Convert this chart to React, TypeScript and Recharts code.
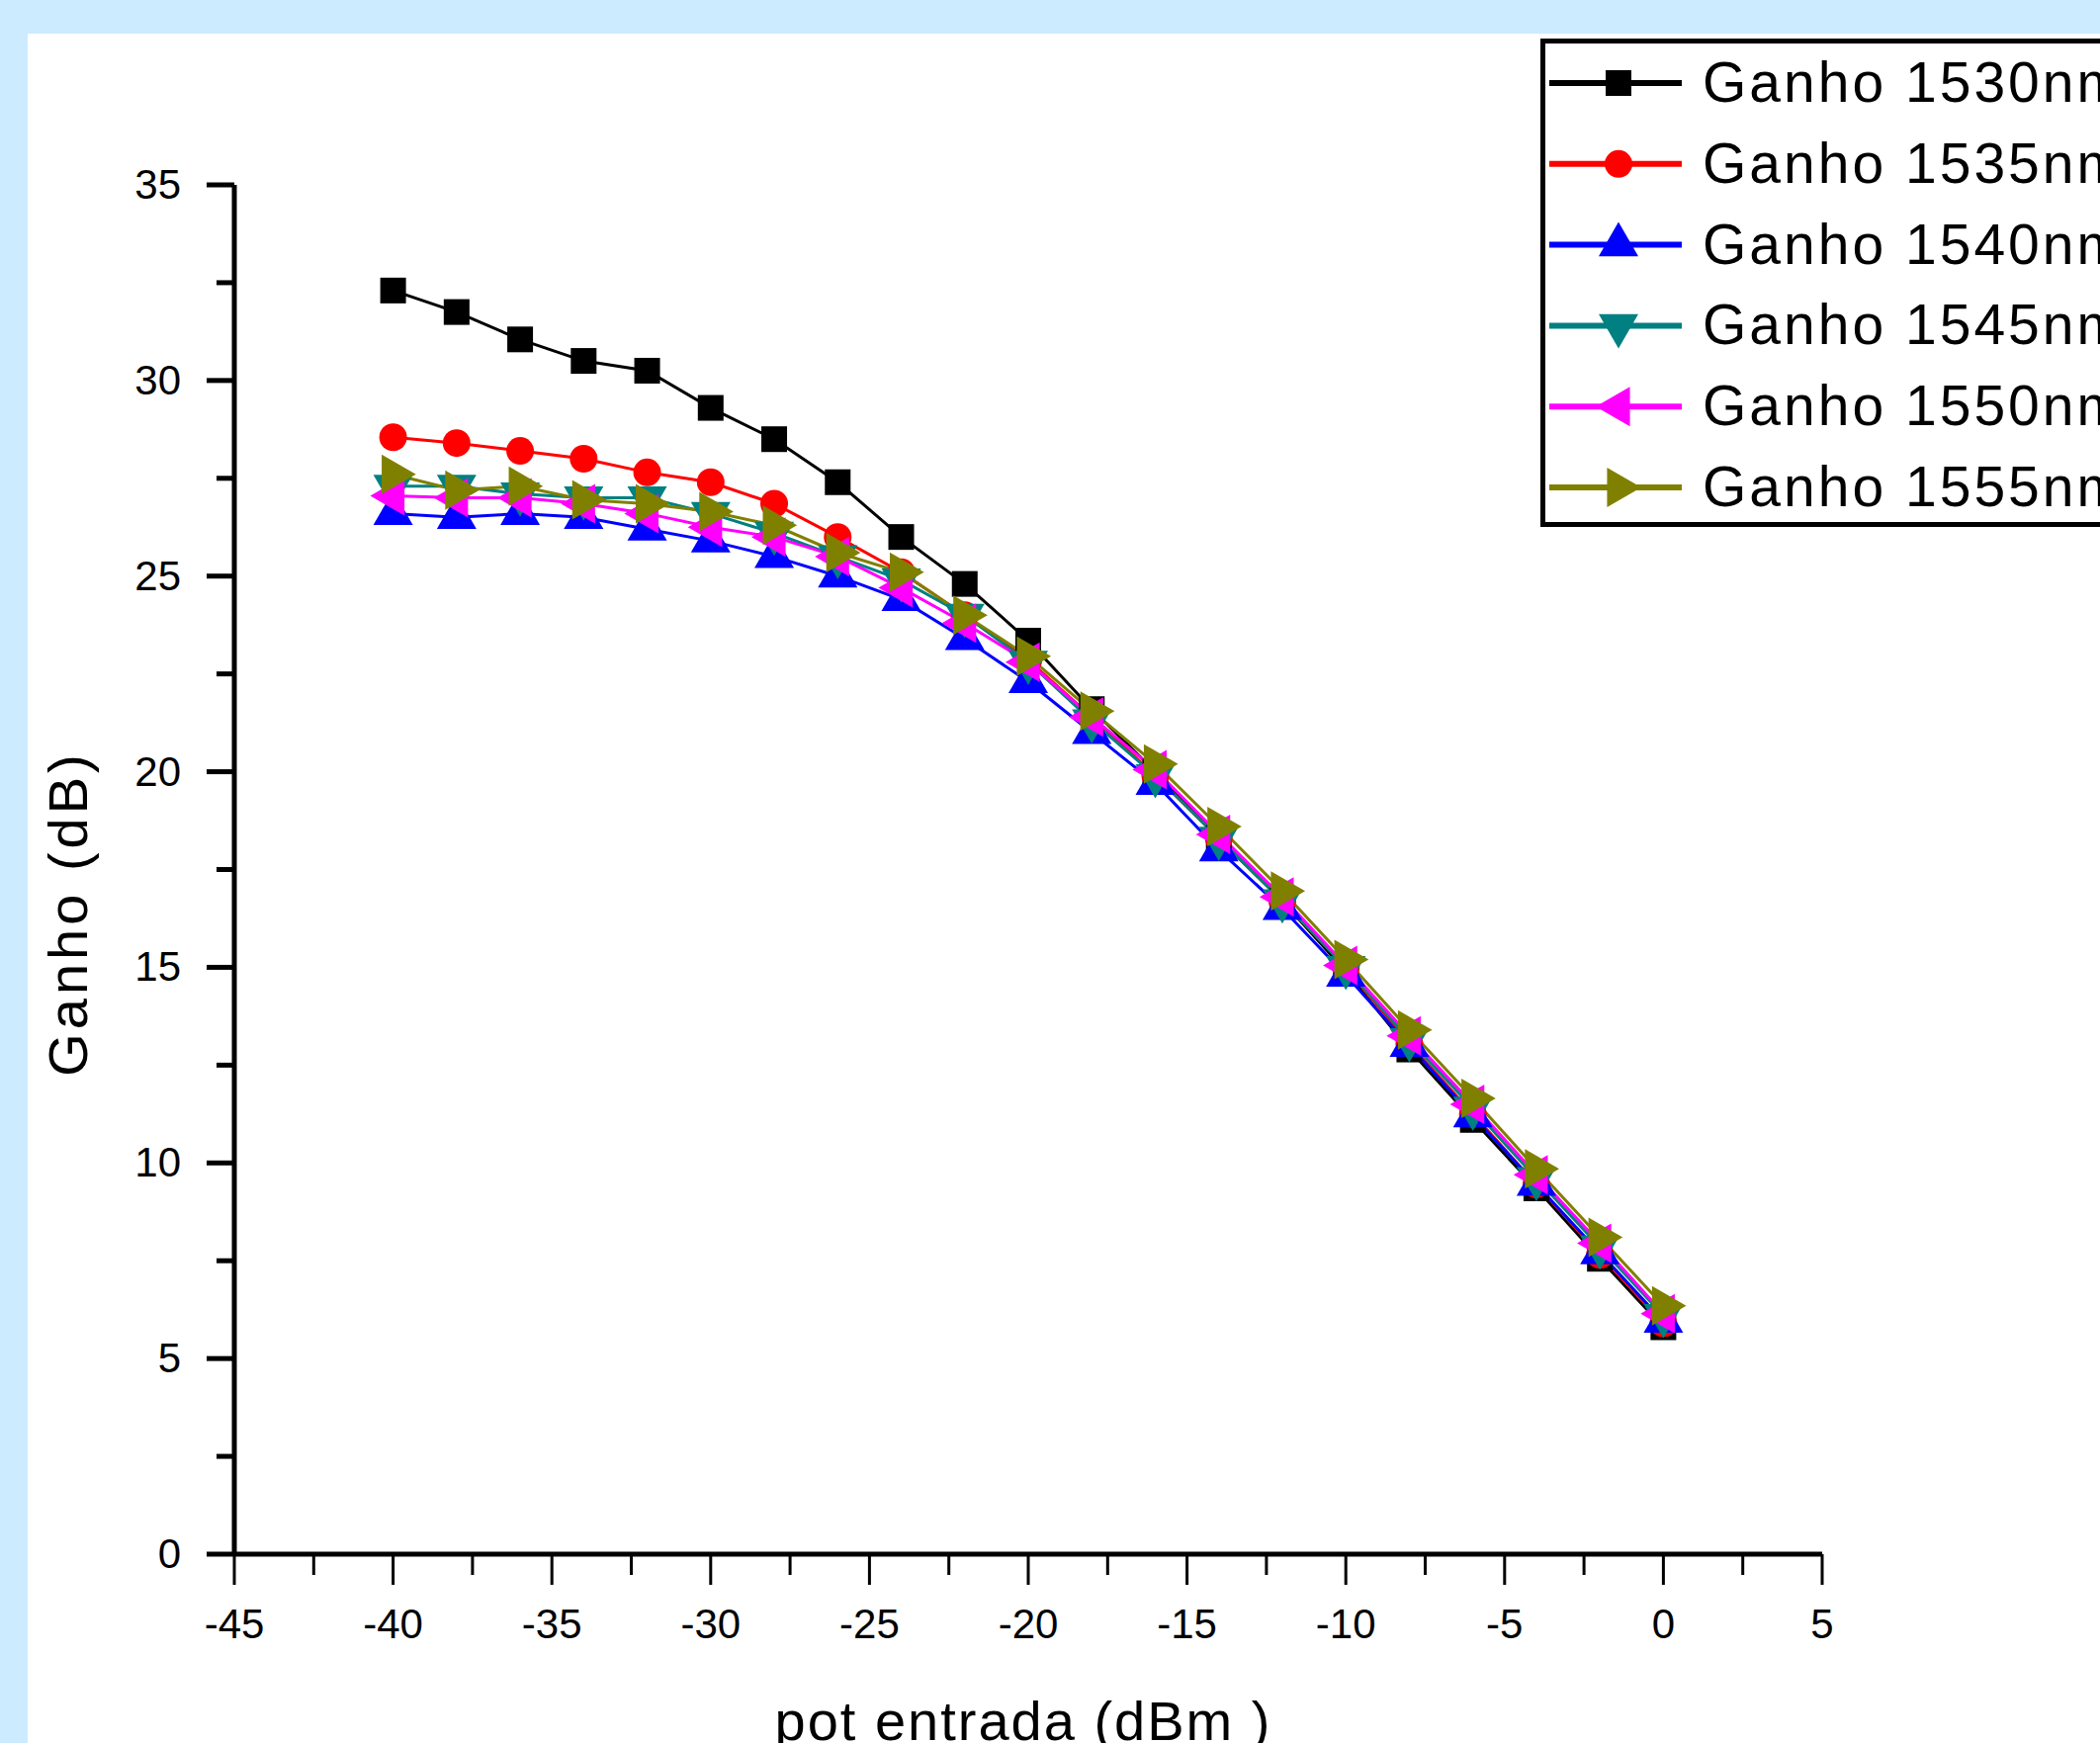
import React from 'react'
import { LineChart, Line, XAxis, YAxis } from 'recharts'

// potência de entrada (dBm)
const POT_ENTRADA = [-40, -38, -36, -34, -32, -30, -28, -26, -24, -22, -20, -18, -16, -14, -12, -10, -8, -6, -4, -2, 0]

// ganho (dB) por comprimento de onda
const GANHO_1530 = [32.3, 31.75, 31.05, 30.5, 30.25, 29.3, 28.5, 27.4, 26.0, 24.8, 23.35, 21.6, 20.0, 18.3, 16.7, 14.9, 12.9, 11.1, 9.35, 7.55, 5.8]
const GANHO_1535 = [28.55, 28.4, 28.2, 28.0, 27.65, 27.4, 26.85, 26.0, 25.1, 24.0, 22.85, 21.4, 19.9, 18.3, 16.7, 15.0, 13.05, 11.25, 9.45, 7.65, 5.9]
const GANHO_1540 = [26.6, 26.5, 26.6, 26.5, 26.2, 25.9, 25.5, 25.0, 24.4, 23.4, 22.3, 21.0, 19.7, 18.0, 16.5, 14.8, 13.0, 11.2, 9.45, 7.7, 5.95]
const GANHO_1545 = [27.3, 27.3, 27.1, 27.0, 27.0, 26.6, 26.1, 25.5, 24.9, 24.0, 22.8, 21.3, 19.9, 18.3, 16.7, 15.0, 13.15, 11.4, 9.6, 7.85, 6.1]
const GANHO_1550 = [27.05, 27.0, 27.0, 26.85, 26.6, 26.25, 26.0, 25.5, 24.7, 23.8, 22.8, 21.4, 20.05, 18.4, 16.8, 15.05, 13.25, 11.5, 9.7, 7.95, 6.15]
const GANHO_1555 = [27.6, 27.2, 27.3, 26.95, 26.85, 26.65, 26.3, 25.6, 25.1, 24.0, 22.95, 21.55, 20.2, 18.6, 16.95, 15.2, 13.4, 11.65, 9.85, 8.1, 6.35]

const X_TICKS = [-45, -42.5, -40, -37.5, -35, -32.5, -30, -27.5, -25, -22.5, -20, -17.5, -15, -12.5, -10, -7.5, -5, -2.5, 0, 2.5, 5]
const Y_TICKS = [0, 2.5, 5, 7.5, 10, 12.5, 15, 17.5, 20, 22.5, 25, 27.5, 30, 32.5, 35]

type Kind = 'square' | 'circle' | 'up' | 'down' | 'left' | 'right'

const SERIES: { key: string; name: string; color: string; kind: Kind; values: number[] }[] = [
  { key: 'g1530', name: 'Ganho 1530nm', color: '#000000', kind: 'square', values: GANHO_1530 },
  { key: 'g1535', name: 'Ganho 1535nm', color: '#FF0000', kind: 'circle', values: GANHO_1535 },
  { key: 'g1540', name: 'Ganho 1540nm', color: '#0000FF', kind: 'up', values: GANHO_1540 },
  { key: 'g1545', name: 'Ganho 1545nm', color: '#008080', kind: 'down', values: GANHO_1545 },
  { key: 'g1550', name: 'Ganho 1550nm', color: '#FF00FF', kind: 'left', values: GANHO_1550 },
  { key: 'g1555', name: 'Ganho 1555nm', color: '#808000', kind: 'right', values: GANHO_1555 },
]

const data = POT_ENTRADA.map((x, i) => {
  const row: Record<string, number> = { x }
  SERIES.forEach((s) => {
    row[s.key] = s.values[i]
  })
  return row
})

const FONT = '"Liberation Sans", Arial, sans-serif'

function Marker({ kind, cx, cy, color, s = 40 }: { kind: Kind; cx: number; cy: number; color: string; s?: number }) {
  const h = s * 0.866
  const a = (h * 2) / 3 // centroid -> tip
  const b = h / 3 // centroid -> base
  const w = s / 2
  if (kind === 'square') return <rect x={cx - 13} y={cy - 13} width={26} height={26} fill={color} />
  if (kind === 'circle') return <circle cx={cx} cy={cy} r={14} fill={color} />
  let pts = ''
  if (kind === 'up') pts = `${cx},${cy - a} ${cx - w},${cy + b} ${cx + w},${cy + b}`
  if (kind === 'down') pts = `${cx},${cy + a} ${cx - w},${cy - b} ${cx + w},${cy - b}`
  if (kind === 'left') pts = `${cx - a},${cy} ${cx + b},${cy - w} ${cx + b},${cy + w}`
  if (kind === 'right') pts = `${cx + a},${cy} ${cx - b},${cy - w} ${cx - b},${cy + w}`
  return <polygon points={pts} fill={color} />
}

const makeDot = (kind: Kind, color: string) => (p: any) =>
  <Marker key={`${kind}-${p.index}`} kind={kind} cx={p.cx} cy={p.cy} color={color} />

function XTick(props: any) {
  const { x, y, payload } = props
  const major = payload.value % 5 === 0
  return (
    <g>
      <line x1={x} y1={y} x2={x} y2={y + (major ? 31 : 21)} stroke="#000" strokeWidth={3} />
      {major && (
        <text x={x} y={y + 85} textAnchor="middle" fontSize={42} fontFamily={FONT} fill="#000">
          {payload.value}
        </text>
      )}
    </g>
  )
}

function YTick(props: any) {
  const { x, y, payload } = props
  const major = payload.value % 5 === 0
  return (
    <g>
      <line x1={x} y1={y} x2={x - (major ? 28 : 18)} y2={y} stroke="#000" strokeWidth={5} />
      {major && (
        <text x={x - 54} y={y + 14} textAnchor="end" fontSize={42} fontFamily={FONT} fill="#000">
          {payload.value}
        </text>
      )}
    </g>
  )
}

const XTitle = () => (
  <text x={1035} y={1760} textAnchor="middle" fontSize={56} letterSpacing={2} fontFamily={FONT} fill="#000">
    pot entrada (dBm )
  </text>
)

const YTitle = () => (
  <text x={88} y={924} transform="rotate(-90 88 924)" textAnchor="middle" fontSize={56} letterSpacing={4} fontFamily={FONT} fill="#000">
    Ganho (dB)
  </text>
)

function LegendBox() {
  return (
    <div
      style={{
        position: 'absolute',
        left: 1558,
        top: 39,
        width: 620,
        height: 484,
        border: '5px solid #000',
        background: '#fff',
      }}
    >
      <svg width={620} height={484}>
        {SERIES.map((s, i) => {
          const cy = 40 + i * 81.8
          return (
            <g key={s.key}>
              <line x1={4} y1={cy} x2={138} y2={cy} stroke={s.color} strokeWidth={6} />
              <Marker kind={s.kind} cx={74} cy={cy} color={s.color} s={40} />
              <text x={159} y={cy + 19} fontSize={57} letterSpacing={3} fontFamily={FONT} fill="#000">
                {s.name}
              </text>
            </g>
          )
        })}
      </svg>
    </div>
  )
}

export default function App() {
  return (
    <div
      style={{
        position: 'absolute',
        left: 0,
        top: 0,
        width: 2124,
        height: 1763,
        background: '#CCEBFF',
        overflow: 'hidden',
        fontFamily: FONT,
      }}
    >
      <div style={{ position: 'absolute', left: 28, top: 34, right: 0, bottom: 0, background: '#fff' }} />
      <div style={{ position: 'absolute', left: 0, top: 0 }}>
        <LineChart width={2124} height={1763} data={data} margin={{ top: 187, right: 281, left: 37, bottom: 91 }}>
          <XAxis
            dataKey="x"
            type="number"
            domain={[-45, 5]}
            ticks={X_TICKS}
            interval={0}
            height={100}
            tickSize={0}
            tickMargin={0}
            tickLine={false}
            tick={<XTick />}
            axisLine={{ stroke: '#000', strokeWidth: 5 }}
            label={<XTitle />}
          />
          <YAxis
            type="number"
            domain={[0, 35]}
            ticks={Y_TICKS}
            interval={0}
            width={200}
            tickSize={0}
            tickMargin={0}
            tickLine={false}
            tick={<YTick />}
            axisLine={{ stroke: '#000', strokeWidth: 5 }}
            label={<YTitle />}
          />
          {SERIES.map((s) => (
            <Line
              key={s.key}
              dataKey={s.key}
              name={s.name}
              type="linear"
              stroke={s.color}
              strokeWidth={3}
              dot={makeDot(s.kind, s.color)}
              activeDot={false}
              isAnimationActive={false}
            />
          ))}
        </LineChart>
      </div>
      <LegendBox />
    </div>
  )
}
